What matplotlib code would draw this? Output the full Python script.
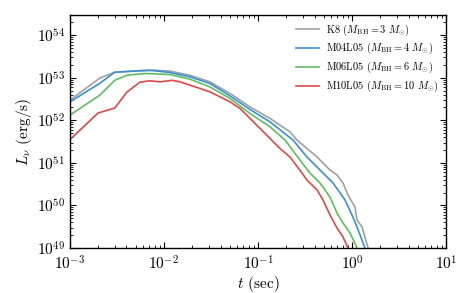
import matplotlib
matplotlib.use("Agg")
import matplotlib.pyplot as plt
from matplotlib.ticker import LogLocator, NullFormatter

plt.rcParams['mathtext.fontset'] = 'cm'
plt.rcParams['font.family'] = 'serif'
plt.rcParams['font.serif'] = ['cmr10', 'DejaVu Serif']
plt.rcParams['axes.formatter.use_mathtext'] = True

# K8 (M_BH = 3)
t_k8 = [1.0e-3, 2.08e-3, 3.0e-3, 5.56e-3, 8.0e-3, 1.16e-2, 1.89e-2, 3.08e-2, 5.04e-2,
        8.22e-2, 0.134, 0.219, 0.260, 0.425, 0.583, 0.692, 0.802, 0.906, 1.076, 1.13,
        1.28, 1.48, 1.56]
L_k8 = [2.97e52, 9.8e52, 1.35e53, 1.48e53, 1.5e53, 1.43e53, 1.15e53, 8.02e52, 4.28e52,
        2.07e52, 1.11e52, 5.37e51, 3.43e51, 1.37e51, 6.78e50, 5.17e50, 3.36e50, 1.75e50,
        9.17e49, 4.54e49, 3.11e49, 1.0e49, 6.0e48]

# M04L05 (M_BH = 4)
t_m04 = [1.0e-3, 2.08e-3, 3.0e-3, 5.56e-3, 7.1e-3, 1.16e-2, 1.89e-2, 3.08e-2, 5.04e-2,
         8.22e-2, 0.134, 0.236, 0.332, 0.457, 0.628, 0.710, 0.843, 1.0, 1.13, 1.37, 1.44]
L_m04 = [2.7e52, 7.4e52, 1.35e53, 1.45e53, 1.5e53, 1.33e53, 1.05e53, 7.35e52, 3.76e52,
         1.80e52, 9.23e51, 3.43e51, 1.37e51, 6.78e50, 3.36e50, 2.30e50, 1.34e50, 5.95e49,
         3.11e49, 1.0e49, 6.0e48]

# M06L05 (M_BH = 6)
t_m06 = [1.0e-3, 2.08e-3, 3.0e-3, 4.04e-3, 6.28e-3, 1.16e-2, 1.89e-2, 3.08e-2, 5.04e-2,
         8.22e-2, 0.134, 0.194, 0.280, 0.357, 0.457, 0.583, 0.692, 0.802, 0.952, 1.13, 1.18]
L_m06 = [1.32e52, 3.9e52, 8.7e52, 1.15e53, 1.26e53, 1.19e53, 9.27e52, 6.11e52, 3.27e52,
         1.45e52, 7.03e51, 3.43e51, 1.16e51, 5.76e50, 3.36e50, 1.57e50, 6.63e49, 3.86e49,
         2.25e49, 1.0e49, 6.0e48]

# M10L05 (M_BH = 10)
t_m10 = [1.0e-3, 1.99e-3, 3.0e-3, 4.04e-3, 5.56e-3, 7.1e-3, 9.05e-3, 1.22e-2, 1.48e-2,
         1.89e-2, 2.42e-2, 3.08e-2, 3.94e-2, 5.04e-2, 6.44e-2, 8.22e-2, 0.105, 0.134,
         0.171, 0.219, 0.294, 0.332, 0.425, 0.491, 0.583, 0.692, 0.802, 0.906, 0.95]
L_m10 = [3.5e51, 1.48e52, 1.94e52, 4.6e52, 7.9e52, 8.5e52, 8.0e52, 8.7e52, 8.02e52,
         6.70e52, 5.61e52, 4.67e52, 3.56e52, 2.72e52, 1.90e52, 1.11e52, 6.46e51, 3.76e51,
         2.19e51, 1.37e51, 5.76e50, 3.94e50, 2.30e50, 1.34e50, 5.95e49, 2.95e49, 1.81e49,
         1.0e49, 6.0e48]

labels = [r'K8 ($M_{\rm BH}=3\ M_{\odot}$)',
          r'M04L05 ($M_{\rm BH}=4\ M_{\odot}$)',
          r'M06L05 ($M_{\rm BH}=6\ M_{\odot}$)',
          r'M10L05 ($M_{\rm BH}=10\ M_{\odot}$)']
colors = ['#a0a0a0', '#3b8fd4', '#5cbf5c', '#e04848']

fig = plt.figure(figsize=(4.69, 2.93), dpi=100)
ax = fig.add_axes([0.149, 0.154, 0.802, 0.795])

for t, L, lab, c in zip([t_k8, t_m04, t_m06, t_m10], [L_k8, L_m04, L_m06, L_m10], labels, colors):
    ax.plot(t, L, color=c, lw=1.2, label=lab)

ax.set_xscale('log')
ax.set_yscale('log')
ax.set_xlim(1e-3, 1e1)
ax.set_ylim(1e49, 3e54)
ax.xaxis.set_major_locator(LogLocator(base=10, numticks=10))
ax.yaxis.set_major_locator(LogLocator(base=10, numticks=10))
ax.xaxis.set_minor_locator(LogLocator(base=10, subs=range(2, 10), numticks=20))
ax.yaxis.set_minor_locator(LogLocator(base=10, subs=range(2, 10), numticks=20))
ax.xaxis.set_minor_formatter(NullFormatter())
ax.yaxis.set_minor_formatter(NullFormatter())
ax.tick_params(which='both', direction='in', top=True, right=True)
ax.tick_params(which='major', length=4, width=0.8, labelsize=11)
ax.tick_params(axis='x', which='major', pad=5)
ax.tick_params(which='minor', length=2, width=0.6)
for s in ax.spines.values():
    s.set_linewidth(1.0)

ax.set_xlabel(r'$t$ (sec)', fontsize=11, labelpad=1)
ax.set_ylabel(r'$L_{\nu}$ (erg/s)', fontsize=11, labelpad=2)

ax.legend(loc='upper right', frameon=False, fontsize=7.5, handlelength=2.2,
          handletextpad=0.7, labelspacing=0.35, borderaxespad=0.3)

fig.savefig('out.png', dpi=100)
